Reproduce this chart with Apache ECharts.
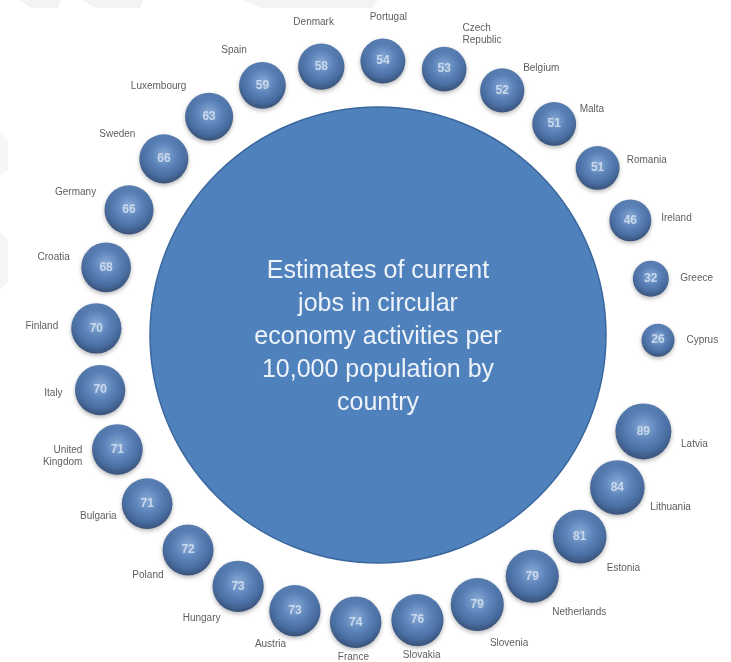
<!DOCTYPE html>
<html>
<head>
<meta charset="utf-8">
<script src="https://cdn.jsdelivr.net/npm/echarts@6/dist/echarts.min.js"></script>
<style>
  html, body { margin: 0; padding: 0; background: #fff; }
  #main { width: 731px; height: 662px; }
</style>
</head>
<body>
<div id="main"></div>
<script>
// countries clockwise from the top of the ring
var countries = ['Portugal', 'Czech\nRepublic', 'Belgium', 'Malta', 'Romania', 'Ireland', 'Greece', 'Cyprus',
  'Latvia', 'Lithuania', 'Estonia', 'Netherlands', 'Slovenia', 'Slovakia', 'France', 'Austria', 'Hungary',
  'Poland', 'Bulgaria', 'United\nKingdom', 'Italy', 'Finland', 'Croatia', 'Germany', 'Sweden', 'Luxembourg',
  'Spain', 'Denmark']
// jobs per 10,000 population
var jobs = [54, 53, 52, 51, 51, 46, 32, 26,
  89, 84, 81, 79, 79, 76, 74, 73, 73,
  72, 71, 71, 70, 70, 68, 66, 66, 63,
  59, 58]
var title = 'Estimates of current\njobs in circular\neconomy activities per\n10,000 population by\ncountry'

var SLOTS = 57        // half steps round the ring
var GAP_AFTER = 8     // extra half step before Latvia
var START = 1.2       // degrees clockwise from top

var chart = echarts.init(document.getElementById('main'))

function slotOf(i) {
  return i * 2 + (i >= GAP_AFTER ? 1 : 0)
}
function sizeOf(v) {
  return 6 + 5.3 * Math.sqrt(v)
}

var bubbles = []
var names = []
countries.forEach(function(c, i) {
  var s = slotOf(i)
  bubbles.push({ name: c, value: [1, s, jobs[i]] })

  // country name sits outside the bubble
  var th = (360 * s / SLOTS + START) * Math.PI / 180
  var sn = Math.sin(th), cs = Math.cos(th)
  var gap = (cs < -0.95 ? 3 : 7) + 6 * Math.max(0, -sn) + 5 * Math.max(0, sn) +
    (sn < 0.25 ? 8 * Math.pow(Math.max(0, cs), 4) : 0)
  var d = sizeOf(jobs[i]) / 2 + gap
  var dx, dy
  if (sn > 0 && cs > 0) {
    dx = d * Math.sqrt(sn); dy = -d * cs * cs * cs
  } else if (sn < 0 && cs < 0) {
    dx = d * sn; dy = -d * cs * (0.4 + 0.6 * cs * cs)
  } else {
    dx = d * sn; dy = -d * cs
  }
  var align = sn > 0.22 ? 'left' : (sn < -0.22 ? 'right' : 'center')
  var valign = cs > 0.975 ? 'bottom' : (cs < -0.6 ? 'top' : 'middle')
  names.push({
    name: c,
    value: [1, s, jobs[i]],
    label: { position: [1 + dx, 1 + dy], align: align, verticalAlign: valign }
  })
})

var option = {
  backgroundColor: '#fff',
  animation: false,
  polar: { center: [377, 342], radius: 281 },
  angleAxis: {
    type: 'value', min: 0, max: SLOTS, startAngle: 90 - START, clockwise: true, show: false
  },
  radiusAxis: { type: 'value', min: 0, max: 1, show: false },
  graphic: [
    // faint watermark stripes
    { type: 'polygon', silent: true, z: -10, shape: { points: [[19, 0], [61, 0], [58, 8], [32, 8]] }, style: { fill: '#f3f3f3' } },
    { type: 'polygon', silent: true, z: -10, shape: { points: [[82, 0], [143, 0], [140, 8], [96, 8]] }, style: { fill: '#f3f3f3' } },
    { type: 'polygon', silent: true, z: -10, shape: { points: [[243, 0], [378, 0], [372, 8], [262, 8]] }, style: { fill: '#f3f3f3' } },
    { type: 'polygon', silent: true, z: -10, shape: { points: [[0, 133], [8, 140], [8, 170], [0, 176]] }, style: { fill: '#f6f6f6' } },
    { type: 'polygon', silent: true, z: -10, shape: { points: [[0, 232], [8, 240], [8, 282], [0, 289]] }, style: { fill: '#f6f6f6' } },
    {
      type: 'circle', silent: true, z: -5,
      shape: { cx: 378, cy: 335, r: 228 },
      style: { fill: '#4f81bd', stroke: '#3a679c', lineWidth: 1.5 }
    },
    {
      type: 'text', silent: true, z: 5, x: 378, y: 337,
      style: {
        text: title, fill: '#eef3fa', font: '25px "Liberation Sans", Arial, sans-serif',
        align: 'center', verticalAlign: 'middle', lineHeight: 33
      }
    }
  ],
  series: [
    {
      type: 'scatter',
      coordinateSystem: 'polar',
      data: bubbles,
      symbolSize: function(v) { return sizeOf(v[2]) },
      itemStyle: {
        color: {
          type: 'radial', x: 0.5, y: 0.42, r: 0.62,
          colorStops: [
            { offset: 0, color: '#7ca6dc' },
            { offset: 0.4, color: '#4677bb' },
            { offset: 0.72, color: '#2c5a9a' },
            { offset: 0.9, color: '#1b3c6f' },
            { offset: 1, color: '#142c54' }
          ]
        },
        shadowBlur: 4, shadowColor: 'rgba(0,0,0,0.35)', shadowOffsetY: 2
      },
      label: {
        show: true, position: 'inside',
        formatter: function(p) { return p.value[2] },
        color: '#dfe8f5', fontSize: 12, fontWeight: 'bold',
        fontFamily: 'Liberation Sans, Arial, sans-serif'
      },
      z: 3
    },
    {
      type: 'scatter',
      coordinateSystem: 'polar',
      data: names,
      symbolSize: 2,
      silent: true,
      itemStyle: { color: 'rgba(0,0,0,0)' },
      label: {
        show: true,
        formatter: '{b}',
        color: '#333', fontSize: 10, lineHeight: 12,
        fontFamily: 'Liberation Sans, Arial, sans-serif'
      },
      z: 2
    }
  ]
}

chart.setOption(option)
</script>
</body>
</html>
